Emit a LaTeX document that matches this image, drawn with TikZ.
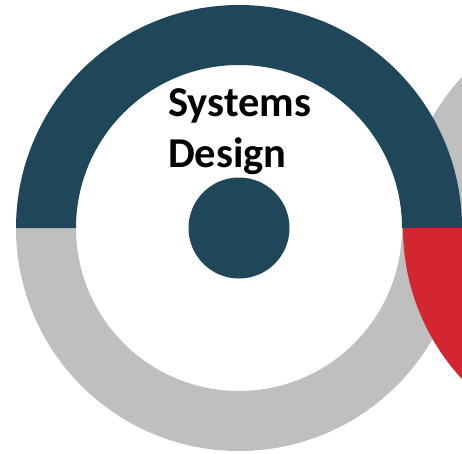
\documentclass[tikz,border=0pt]{standalone}
\usepackage{fontspec}
\setmainfont{Carlito}
\definecolor{ringblue}{RGB}{32,70,90}
\definecolor{ringgray}{RGB}{191,191,191}
\definecolor{ringred}{RGB}{210,38,48}
\tikzset{
  lbl/.style={anchor=base west, inner sep=0pt, font=\bfseries\fontsize{42.5}{51}\selectfont, text=black}
}
\begin{document}
\begin{tikzpicture}[x=1pt,y=1pt]
\useasboundingbox (0,0) rectangle (462,453);
\clip (0,0) rectangle (462,453);
% right ring, gray top half (behind)
\fill[ringgray] (626,225) ++(0:223) arc[start angle=0,end angle=180,radius=223]
  -- ++(60,0) arc[start angle=180,end angle=0,radius=163] -- cycle;
% left ring
\fill[ringgray] (239,225) ++(180:223) arc[start angle=180,end angle=360,radius=223]
  -- ++(-60,0) arc[start angle=360,end angle=180,radius=163] -- cycle;
\fill[ringblue] (239,225) ++(0:223) arc[start angle=0,end angle=180,radius=223]
  -- ++(60,0) arc[start angle=180,end angle=0,radius=163] -- cycle;
% right ring, red bottom half (front)
\fill[ringred] (626,225) ++(180:223) arc[start angle=180,end angle=360,radius=223]
  -- ++(-60,0) arc[start angle=360,end angle=180,radius=163] -- cycle;
% centre dot
\fill[ringblue] (239,225) circle[radius=50.5];
% text
\node[lbl] (sys) at (168,336) {Systems};
\node[lbl] (des) at (168,286) {Design};
\end{tikzpicture}
\end{document}
